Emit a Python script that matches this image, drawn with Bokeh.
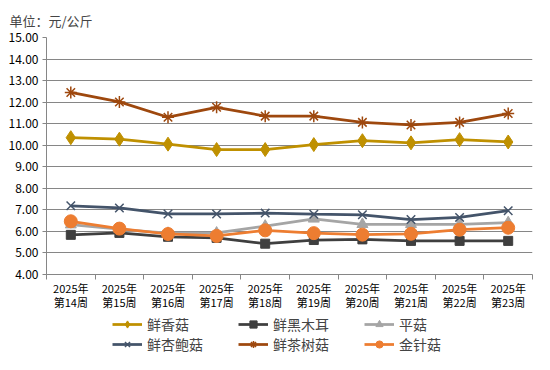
from bokeh.plotting import figure
from bokeh.layouts import column
from bokeh.models import (Range1d, FixedTicker, Legend, LegendItem, NumeralTickFormatter)
from bokeh.embed import file_html
from bokeh.resources import INLINE

weeks = ["2025年\n第14周", "2025年\n第15周", "2025年\n第16周", "2025年\n第17周", "2025年\n第18周",
         "2025年\n第19周", "2025年\n第20周", "2025年\n第21周", "2025年\n第22周", "2025年\n第23周"]

xianxianggu = [10.35, 10.28, 10.05, 9.80, 9.80, 10.03, 10.21, 10.11, 10.26, 10.15]
xianheimuer = [5.84, 5.93, 5.75, 5.70, 5.43, 5.60, 5.63, 5.56, 5.56, 5.56]
pinggu = [6.31, 6.10, 5.92, 5.93, 6.25, 6.58, 6.33, 6.33, 6.33, 6.41]
xingbaogu = [7.19, 7.09, 6.81, 6.81, 6.85, 6.80, 6.77, 6.55, 6.65, 6.96]
chashugu = [12.45, 12.01, 11.30, 11.76, 11.35, 11.35, 11.06, 10.94, 11.06, 11.47]
jinzhengu = [6.47, 6.13, 5.88, 5.79, 6.05, 5.92, 5.85, 5.89, 6.08, 6.17]

series = [
    ("鲜香菇", xianxianggu, "#BF9000", "diamond", 14),
    ("鲜黑木耳", xianheimuer, "#3F3F3F", "square", 9),
    ("平菇", pinggu, "#A5A5A5", "triangle", 11),
    ("鲜杏鲍菇", xingbaogu, "#44546A", "x", 12),
    ("鲜茶树菇", chashugu, "#9E480E", "asterisk", 12),
    ("金针菇", jinzhengu, "#ED7D31", "circle", 13),
]

FONT = "Noto Sans CJK SC"

p = figure(width=534, height=312, output_backend="svg", toolbar_location=None,
           x_range=Range1d(0.5, 10.5), y_range=Range1d(4, 15),
           min_border_left=46, min_border_right=2, min_border_top=37, min_border_bottom=36)

p.title.text = "单位：元/公斤"
p.title.text_font = FONT
p.title.text_font_size = "13px"
p.title.text_font_style = "normal"
p.title.align = "left"
p.title.offset = -37
p.title.standoff = 16

p.outline_line_color = None
p.background_fill_color = "white"
p.border_fill_color = "white"

# legend-only figure below the chart
p2 = figure(width=534, height=42, output_backend="svg", toolbar_location=None,
            x_range=Range1d(100, 101), y_range=Range1d(100, 101),
            x_axis_type=None, y_axis_type=None,
            min_border_left=0, min_border_right=0, min_border_top=0, min_border_bottom=0)
p2.outline_line_color = None
p2.xgrid.grid_line_color = None
p2.ygrid.grid_line_color = None
p2.border_fill_color = "white"

xs = list(range(1, len(weeks) + 1))

items = {}
for name, vals, color, marker, size in series:
    for fig in (p, p2):
        lr = fig.line(xs, vals, line_color=color, line_width=2.75)
        if marker in ("x", "asterisk"):
            sr = fig.scatter(xs, vals, marker=marker, size=size, line_color=color,
                             line_width=1.5, fill_color=color)
        else:
            sr = fig.scatter(xs, vals, marker=marker, size=size, line_color=color,
                             fill_color=color)
    items[name] = LegendItem(label=name, renderers=[lr, sr])

# axes
p.xaxis.ticker = FixedTicker(ticks=xs, minor_ticks=[i + 0.5 for i in range(0, len(weeks) + 1)])
p.xaxis.major_label_overrides = {i + 1: w for i, w in enumerate(weeks)}
p.xaxis.major_tick_out = 0
p.xaxis.major_tick_in = 0
p.xaxis.minor_tick_out = 5
p.xaxis.minor_tick_in = 0
p.xaxis.minor_tick_line_color = "#868686"
p.xaxis.axis_line_color = "#868686"
p.xaxis.major_label_text_font = FONT
p.xaxis.major_label_text_font_size = "11px"
p.xaxis.major_label_text_color = "black"
p.xaxis.major_label_text_line_height = 0.9
p.xaxis.major_label_standoff = 0

p.yaxis.ticker = FixedTicker(ticks=list(range(4, 16)))
p.yaxis.formatter = NumeralTickFormatter(format="0.00")
p.yaxis.major_tick_out = 4
p.yaxis.major_tick_in = 0
p.yaxis.minor_tick_line_color = None
p.yaxis.major_tick_line_color = "#868686"
p.yaxis.axis_line_color = "#868686"
p.yaxis.major_label_text_font = FONT
p.yaxis.major_label_text_font_size = "12px"
p.yaxis.major_label_text_color = "black"
p.yaxis.major_label_standoff = 4

p.xgrid.grid_line_color = None
p.ygrid.grid_line_color = "#868686"
p.ygrid.grid_line_width = 1

order = ["鲜香菇", "鲜杏鲍菇", "鲜黑木耳", "鲜茶树菇", "平菇", "金针菇"]
legend = Legend(items=[items[n] for n in order], ncols=3, glyph_width=30, glyph_height=18,
                label_standoff=5, label_width=91, spacing=0, padding=0, margin=0,
                label_text_font=FONT, label_text_font_size="14px",
                border_line_color=None, background_fill_alpha=0, location=(66, 0))
p2.add_layout(legend, "center")

layout = column(p, p2, spacing=0)
open("out.html", "w").write(file_html(layout, INLINE))
